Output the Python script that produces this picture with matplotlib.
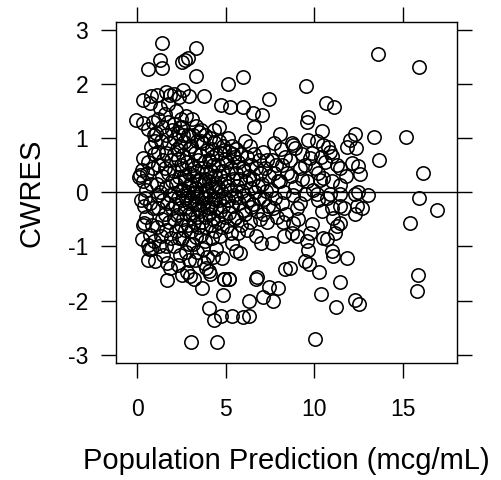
import numpy as np
import matplotlib.pyplot as plt

plt.rcParams['font.family'] = ['Liberation Sans', 'DejaVu Sans']
plt.rcParams['axes.unicode_minus'] = False

# (PRED, CWRES) pairs, grouped by region
upper_sparse = [
    (1.41, 2.76), (3.30, 2.66), (0.62, 2.27), (1.28, 2.43), (1.38, 2.29),
    (2.51, 2.41), (2.69, 2.44), (2.88, 2.48), (3.30, 2.14), (3.77, 1.78),
    (5.14, 2.00), (5.97, 2.12), (9.51, 1.96), (13.58, 2.55), (15.93, 2.31),
    (4.73, 1.61), (5.24, 1.57), (5.97, 1.58), (6.56, 1.46), (7.05, 1.43),
    (7.46, 1.72), (6.61, 1.20), (10.66, 1.65), (11.11, 1.57),
]
left_edge = [
    (-0.05, 1.34), (0.30, 1.27), (0.60, 1.16), (0.35, 1.71), (0.70, 1.65),
    (0.80, 1.78), (0.80, 0.84), (0.35, 0.63), (0.15, 0.32), (0.25, 0.41),
    (0.10, 0.29), (0.30, 0.20), (0.50, 0.05), (0.70, -0.20), (0.50, -0.45),
    (0.40, -0.57), (0.70, -0.78), (0.60, -0.97), (0.80, -1.05), (0.25, -0.86),
    (0.65, -1.05), (1.00, -1.27), (0.90, 0.45), (0.60, 0.55), (0.95, 0.70),
    (0.20, -0.15), (0.45, -0.10), (0.90, -0.30), (0.75, 0.15), (0.55, 0.35),
    (0.95, 1.05), (0.90, 1.30), (1.00, 0.95), (0.40, -0.25), (0.85, -0.60),
    (0.30, -0.60), (0.95, -0.90), (0.60, -1.25),
]
band_1_2 = [
    (1.10, 1.80), (1.30, 1.55), (1.20, 1.35), (1.40, 1.20), (1.05, 1.10),
    (1.35, 0.95), (1.15, 0.75), (1.45, 0.60), (1.20, 0.50), (1.40, 0.30),
    (1.10, 0.15), (1.30, 0.00), (1.45, -0.15), (1.20, -0.30), (1.40, -0.50),
    (1.10, -0.65), (1.35, -0.80), (1.25, -1.00), (1.45, -1.15), (1.15, -0.05),
    (1.60, 1.84), (1.85, 1.80), (1.55, 1.45), (1.75, 1.30), (1.95, 1.15),
    (1.60, 1.05), (1.80, 0.90), (1.65, 0.72), (1.90, 0.60), (1.55, 0.45),
    (1.75, 0.35), (1.95, 0.20), (1.60, 0.10), (1.85, -0.05), (1.70, -0.20),
    (1.95, -0.30), (1.55, -0.40), (1.80, -0.55), (1.65, -0.70), (1.90, -0.85),
    (1.70, -1.30), (1.85, -1.40), (1.66, -1.61), (1.60, -1.00), (1.75, 1.62),
]
band_2_3 = [
    (2.10, 1.82), (2.35, 1.75), (2.20, 1.50), (2.45, 1.35), (2.05, 1.25),
    (2.30, 1.10), (2.15, 0.98), (2.40, 0.85), (2.05, 0.70), (2.30, 0.62),
    (2.45, 0.50), (2.10, 0.40), (2.35, 0.28), (2.20, 0.15), (2.45, 0.05),
    (2.05, -0.02), (2.30, -0.10), (2.15, -0.22), (2.40, -0.30), (2.25, -0.42),
    (2.05, -0.50), (2.45, -0.60), (2.20, -0.72), (2.35, -0.85), (2.10, -1.00),
    (2.40, -1.15), (2.30, -1.35), (2.50, -1.52), (2.25, 0.80), (2.40, 1.20),
    (2.60, 1.88), (2.90, 1.78), (2.75, 1.40), (2.55, 1.20), (2.85, 1.05),
    (2.65, 0.92), (2.95, 0.80), (2.60, 0.68), (2.80, 0.55), (2.55, 0.42),
    (2.90, 0.35), (2.70, 0.22), (2.95, 0.12), (2.60, 0.05), (2.80, -0.05),
    (2.55, -0.15), (2.90, -0.20), (2.70, -0.30), (2.95, -0.40), (2.60, -0.50),
    (2.85, -0.60), (2.70, -0.70), (2.55, -0.85), (2.90, -0.95), (2.75, -1.10),
    (2.95, -1.25), (2.80, -1.48), (3.00, -1.55), (2.65, 0.30), (2.85, 0.00),
    (2.75, -0.10), (2.60, 1.05),
]
band_3_4 = [
    (3.10, 1.35), (3.30, 1.22), (3.15, 1.05), (3.40, 0.95), (3.05, 0.85),
    (3.25, 0.72), (3.45, 0.60), (3.10, 0.50), (3.35, 0.40), (3.20, 0.30),
    (3.45, 0.20), (3.05, 0.15), (3.30, 0.08), (3.15, -0.02), (3.40, -0.08),
    (3.05, -0.15), (3.25, -0.22), (3.45, -0.30), (3.10, -0.38), (3.35, -0.45),
    (3.20, -0.55), (3.45, -0.65), (3.05, -0.72), (3.30, -0.82), (3.15, -0.95),
    (3.40, -1.10), (3.20, -1.60), (3.25, -1.25), (3.50, 1.12), (3.30, 0.00),
    (3.20, 0.45), (3.40, -0.20),
    (3.60, 1.15), (3.85, 1.05), (3.70, 0.90), (3.95, 0.78), (3.55, 0.68),
    (3.80, 0.58), (3.65, 0.45), (3.90, 0.35), (3.55, 0.25), (3.75, 0.15),
    (3.95, 0.05), (3.60, -0.02), (3.85, -0.10), (3.70, -0.20), (3.95, -0.28),
    (3.55, -0.35), (3.80, -0.45), (3.65, -0.55), (3.90, -0.65), (3.60, -0.78),
    (3.85, -0.90), (3.70, -1.05), (3.95, -1.20), (3.64, -1.76), (3.90, -1.39),
    (3.75, -1.30), (3.60, 0.95), (3.80, 0.25), (3.70, -0.10),
]
band_4_6 = [
    (4.10, 1.00), (4.35, 0.92), (4.20, 0.80), (4.45, 0.70), (4.05, 0.60),
    (4.30, 0.50), (4.15, 0.40), (4.40, 0.30), (4.05, 0.20), (4.25, 0.10),
    (4.45, 0.02), (4.10, -0.05), (4.35, -0.12), (4.20, -0.22), (4.45, -0.30),
    (4.05, -0.40), (4.30, -0.50), (4.15, -0.60), (4.40, -0.72), (4.25, -0.85),
    (4.05, -1.45), (4.10, -1.50), (4.45, -1.05), (4.30, -1.20), (4.40, 0.15),
    (4.20, 0.65), (4.10, -0.30), (4.35, 1.15),
    (4.60, 0.95), (4.85, 0.85), (4.70, 0.72), (4.95, 0.62), (4.55, 0.50),
    (4.80, 0.40), (4.65, 0.30), (4.90, 0.20), (4.55, 0.10), (4.75, 0.02),
    (4.95, -0.08), (4.60, -0.15), (4.85, -0.25), (4.70, -0.35), (4.95, -0.45),
    (4.55, -0.55), (4.80, -0.65), (4.65, -0.80), (4.90, -1.60), (4.80, -1.21),
    (4.86, -1.90), (4.60, 1.20), (4.90, 0.78),
    (5.10, 1.00), (5.35, 0.85), (5.20, 0.75), (5.45, 0.65), (5.05, 0.55),
    (5.30, 0.45), (5.15, 0.35), (5.40, 0.25), (5.05, 0.12), (5.25, 0.05),
    (5.45, -0.05), (5.10, -0.15), (5.35, -0.25), (5.20, -0.38), (5.45, -0.50),
    (5.05, -0.62), (5.30, -0.75), (5.35, -0.93), (5.20, -1.60), (5.40, 0.70),
    (5.60, 0.80), (5.85, 0.70), (5.70, 0.55), (5.95, 0.45), (5.55, 0.35),
    (5.80, 0.25), (5.65, 0.12), (5.90, 0.02), (5.55, -0.08), (5.75, -0.20),
    (5.95, -0.32), (5.60, -0.45), (5.85, -0.60), (5.70, -0.75), (5.60, -1.09),
    (5.80, -1.12),
]
band_6_9 = [
    (6.10, 0.95), (6.35, 0.85), (6.20, 0.65), (6.45, 0.50), (6.05, 0.40),
    (6.30, 0.30), (6.15, 0.18), (6.40, 0.08), (6.05, -0.05), (6.25, -0.15),
    (6.45, -0.28), (6.10, -0.40), (6.35, -0.55), (6.20, -0.70),
    (6.60, 0.70), (6.85, 0.60), (6.70, 0.45), (6.95, 0.35), (6.55, 0.25),
    (6.80, 0.12), (6.65, 0.00), (6.90, -0.10), (6.55, -0.22), (6.75, -0.35),
    (6.95, -0.50), (6.70, -0.80),
    (7.10, 0.75), (7.35, 0.60), (7.20, 0.45), (7.45, 0.30), (7.05, 0.15),
    (7.30, 0.02), (7.15, -0.12), (7.40, -0.25), (7.10, -0.40), (7.35, -0.55),
    (7.00, -0.93),
    (7.60, 0.60), (7.85, 0.50), (7.70, 0.35), (7.95, 0.20), (7.55, 0.05),
    (7.80, -0.10), (7.65, -0.30), (7.90, -0.45), (7.60, -0.94), (7.70, 0.90),
    (8.06, 1.08), (8.10, 0.80), (8.35, 0.65), (8.20, 0.50), (8.45, 0.35),
    (8.05, 0.20), (8.30, 0.00), (8.15, -0.20), (8.40, -0.40), (8.30, -0.80),
    (8.25, -0.55),
    (8.81, 0.88), (8.72, 0.90), (8.91, 0.81), (9.19, 0.44), (9.47, 0.50),
    (8.81, -0.56), (8.72, -0.75), (9.00, -0.81), (9.10, -0.50), (9.47, -0.04),
    (8.70, 0.30), (8.90, 0.10), (9.20, -0.20), (8.60, 0.60), (9.30, 0.70),
    (9.00, -0.30), (8.80, -0.05), (9.30, 0.25),
]
right_mid = [
    (9.66, 1.39), (9.60, 1.30), (10.42, 1.13), (9.66, 0.96), (10.13, 0.95),
    (10.51, 0.87), (10.79, 0.84), (10.89, 0.75), (10.98, 0.66), (11.27, 0.50),
    (11.45, 0.44), (11.45, 0.14), (9.75, 0.63), (9.85, 0.72), (10.04, 0.44),
    (10.23, 0.35), (10.32, 0.23), (10.51, 0.26), (11.07, -1.18), (10.98, -1.09),
    (10.70, -0.87), (10.51, -0.84), (11.17, -0.75), (11.26, -0.63), (11.45, -0.56),
    (10.98, -0.29), (11.45, -0.26), (11.07, -0.47), (10.42, -0.35), (9.85, -0.59),
    (9.75, -0.75), (9.57, -0.90), (9.66, -1.06), (10.13, -0.04), (10.88, -0.04),
    (11.45, -0.04), (9.60, 0.20), (9.90, 0.05), (10.60, 0.55), (10.20, -0.15),
    (10.70, -0.10), (11.00, 0.20), (10.40, 0.65),
    (12.30, 1.07), (12.02, 0.96), (11.86, 0.84), (12.36, 0.82), (13.37, 1.01),
    (13.67, 0.60), (12.11, 0.53), (12.49, 0.49), (12.58, 0.33), (12.49, 0.01),
    (13.05, -0.05), (12.30, -0.41), (12.39, -0.26), (12.67, -0.29), (12.30, -0.04),
    (11.80, 0.30), (11.70, -0.30), (11.86, -1.21),
    (15.18, 1.01), (16.12, 0.35), (15.93, -0.10), (16.92, -0.33), (15.41, -0.56),
]
lower_sparse = [
    (3.02, -2.77), (4.49, -2.76), (10.06, -2.71), (4.05, -2.14), (4.33, -2.36),
    (4.71, -2.28), (5.33, -2.28), (5.95, -2.31), (6.33, -2.28), (6.31, -2.01),
    (7.12, -1.93), (7.68, -2.01), (6.75, -1.56), (6.72, -1.60), (7.46, -1.74),
    (7.97, -1.76), (8.34, -1.41), (8.63, -1.39), (9.47, -1.27), (9.72, -1.33),
    (10.28, -1.48), (10.36, -1.87), (11.23, -2.11), (11.45, -1.65), (12.30, -1.99),
    (12.52, -2.07), (15.88, -1.52), (15.80, -1.82), (5.20, -1.60), (4.90, -1.60),
]

groups = [upper_sparse, left_edge, band_1_2, band_2_3, band_3_4,
          band_4_6, band_6_9, right_mid, lower_sparse]
pts = np.array([p for g in groups for p in g])
pred, cwres = pts[:, 0], pts[:, 1]

fig = plt.figure(figsize=(5.01, 4.80), dpi=100)
ax = fig.add_axes([116 / 501, 1 - 363 / 480, 341 / 501, 341 / 480])

ax.plot(pred, cwres, 'o', mfc='none', mec='black', ms=9.6, mew=1.15)
ax.axhline(0, color='black', lw=1.0)

ax.set_xlim(-1.2, 18.06)
ax.set_ylim(-3.15, 3.14)
ax.set_xticks([0, 5, 10, 15])
ax.set_yticks([-3, -2, -1, 0, 1, 2, 3])
ax.tick_params(direction='out', length=11, width=1.0, labelsize=16.5,
               top=True, right=True, color='black')
ax.tick_params(axis='x', pad=14)
ax.tick_params(axis='y', pad=9)
for s in ax.spines.values():
    s.set_linewidth(1.0)

ax.set_xlabel('Population Prediction (mcg/mL)', fontsize=21, labelpad=19)
ax.set_ylabel('CWRES', fontsize=21, labelpad=16)

fig.savefig('out.png', dpi=100)
